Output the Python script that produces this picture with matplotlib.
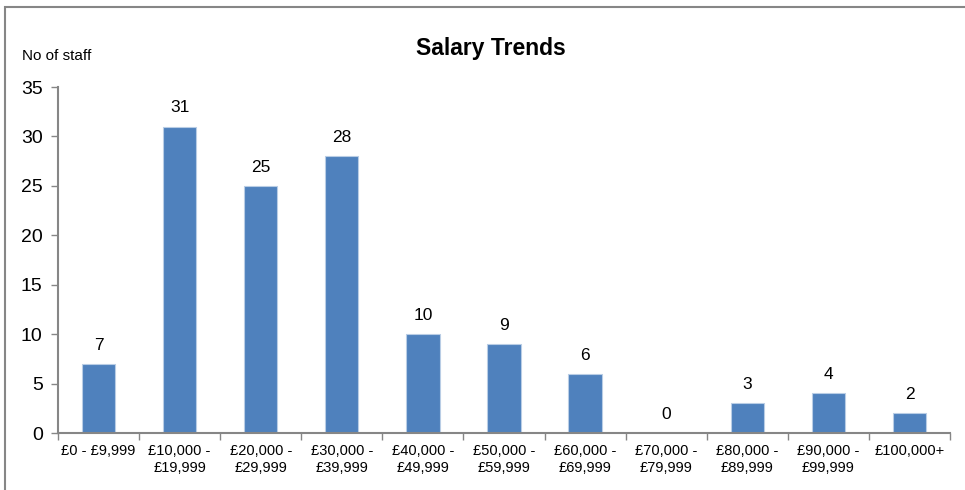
import numpy as np
import matplotlib
matplotlib.use("Agg")
from matplotlib import pyplot as plt
from matplotlib.patches import Rectangle

categories = ['£0 - £9,999', '£10,000 -\n£19,999', '£20,000 -\n£29,999', '£30,000 -\n£39,999',
              '£40,000 -\n£49,999', '£50,000 -\n£59,999', '£60,000 -\n£69,999', '£70,000 -\n£79,999',
              '£80,000 -\n£89,999', '£90,000 -\n£99,999', '£100,000+']
staff = [7, 31, 25, 28, 10, 9, 6, 0, 3, 4, 2]
yticks = [0, 5, 10, 15, 20, 25, 30, 35]

plt.rcParams['font.family'] = ['Liberation Sans', 'DejaVu Sans']

fig = plt.figure(figsize=(9.65, 4.9), dpi=100)
ax = fig.add_axes([58/965, 1 - 433/490, 892/965, 346/490])

x = np.arange(len(categories))
ax.bar(x, staff, width=0.41, color='#4F81BD', edgecolor='#B9CDE5', linewidth=0.8)
for xi, v in zip(x, staff):
    ax.annotate(str(v), (xi, v), xytext=(0, 8), textcoords='offset points',
                ha='center', va='bottom', fontsize=12.5)

ax.set_xlim(-0.5, len(categories) - 0.5)
ax.set_ylim(0, 35)
ax.set_yticks(yticks)
ax.tick_params(axis='y', labelsize=14, length=5, width=1, color='#868686', pad=6)
ax.set_xticks(x)
ax.set_xticklabels(categories, fontsize=10.5, linespacing=1.25)
ax.tick_params(axis='x', length=0, pad=8)
ax.set_xticks(np.arange(len(categories) + 1) - 0.5, minor=True)
ax.tick_params(axis='x', which='minor', length=5, width=1, color='#868686')

for s in ['top', 'right']:
    ax.spines[s].set_visible(False)
for s in ['left', 'bottom']:
    ax.spines[s].set_color('#868686')
    ax.spines[s].set_linewidth(1.5)

fig.text(491/965, 1 - 48/490, 'Salary Trends', ha='center', va='center', fontsize=16.5, fontweight='bold')
fig.text(22/965, 1 - 56/490, 'No of staff', ha='left', va='center', fontsize=11)

# outer chart frame (only left and top visible in the crop)
fig.patches.append(Rectangle((5/965, -0.1), 1.2, 1 - 7/490 + 0.1, transform=fig.transFigure,
                             fill=False, edgecolor='#868686', linewidth=1.5))

fig.savefig('out.png', dpi=100)
